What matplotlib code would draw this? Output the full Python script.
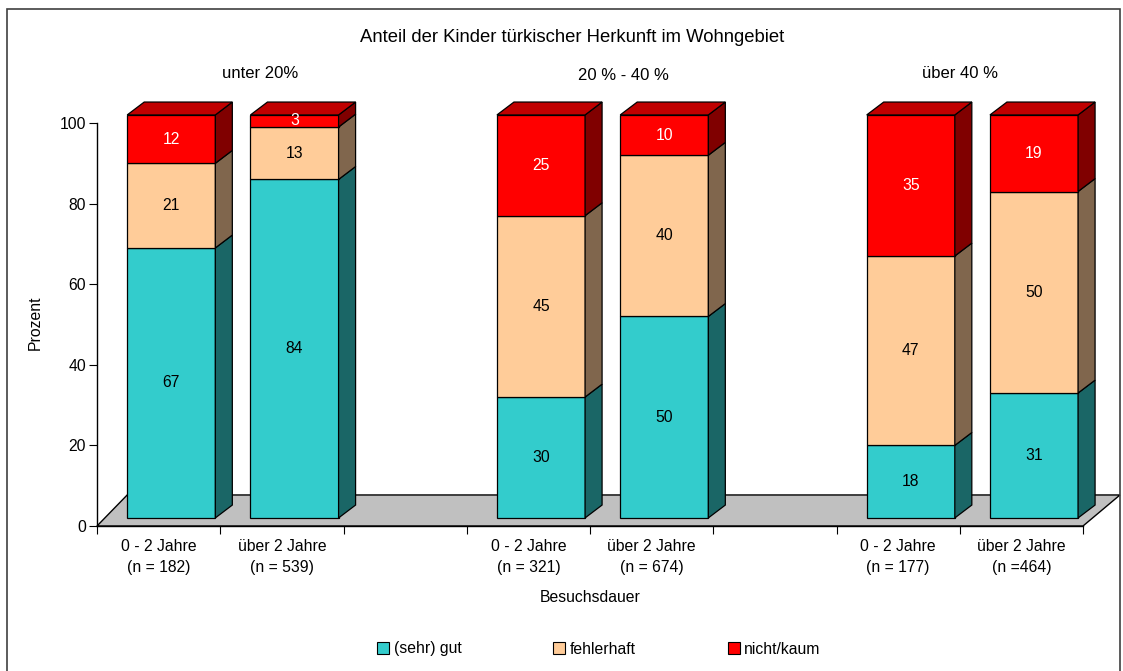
import matplotlib
matplotlib.use("Agg")
import matplotlib.pyplot as plt
from matplotlib.patches import Polygon, Patch, Rectangle

plt.rcParams["font.family"] = ["Liberation Sans", "DejaVu Sans"]

# -----------------------------
# Data
# -----------------------------
title = "Anteil der Kinder türkischer Herkunft im Wohngebiet"
groups = ["unter 20%", "20 % - 40 %", "über 40 %"]
cat_labels = ["0 - 2 Jahre\n(n = 182)", "über 2 Jahre\n(n = 539)",
              "0 - 2 Jahre\n(n = 321)", "über 2 Jahre\n(n = 674)",
              "0 - 2 Jahre\n(n = 177)", "über 2 Jahre\n(n =464)"]
series_names = ["(sehr) gut", "fehlerhaft", "nicht/kaum"]
gut = [67, 84, 30, 50, 18, 31]
fehlerhaft = [21, 13, 45, 40, 47, 50]
nicht = [12, 3, 25, 10, 35, 19]

# slot positions on the x axis (8 slots, gaps between groups)
slots = [0, 1, 3, 4, 6, 7]

face_col = ["#33CCCC", "#FFCC99", "#FF0000"]
side_col = ["#1A6666", "#80664D", "#800000"]
top_col = "#C00000"
text_col = ["black", "black", "white"]

FS = 11.3

# -----------------------------
# Figure
# -----------------------------
W, H = 1123, 671
fig = plt.figure(figsize=(W / 100, H / 100), dpi=100)

# outer frame
fig.patches.append(Rectangle((7 / W, -0.05), (1120 - 7) / W, 1 - 9 / H + 0.05,
                             transform=fig.transFigure, fill=False,
                             edgecolor="#404040", linewidth=1.2))

ax = fig.add_axes([97 / W, (H - 526) / H, 986 / W, (526 - 123) / H])
ax.set_xlim(0, 8)
ax.set_ylim(0, 100)

# floor
floor = Polygon([(0, 0), (8, 0), (8.30, 7.7), (0.245, 7.7)], closed=True,
                facecolor="#C0C0C0", edgecolor="black", linewidth=1.0,
                clip_on=False, zorder=1)
ax.add_patch(floor)

# bars
base = 2.0
bw = 0.715
ddx, ddy = 0.138, 3.2
for k, s in enumerate(slots):
    left = s + 0.245
    right = left + bw
    vals = [gut[k], fehlerhaft[k], nicht[k]]
    y0 = base
    for j, v in enumerate(vals):
        y1 = y0 + v
        ax.add_patch(Polygon([(left, y0), (right, y0), (right, y1), (left, y1)],
                             facecolor=face_col[j], edgecolor="black",
                             linewidth=0.9, clip_on=False, zorder=3))
        ax.add_patch(Polygon([(right, y0), (right + ddx, y0 + ddy),
                              (right + ddx, y1 + ddy), (right, y1)],
                             facecolor=side_col[j], edgecolor="black",
                             linewidth=0.9, clip_on=False, zorder=3))
        ax.text((left + right) / 2, (y0 + y1) / 2, str(v), ha="center",
                va="center", fontsize=FS, color=text_col[j], zorder=4)
        y0 = y1
    ax.add_patch(Polygon([(left, y0), (right, y0), (right + ddx, y0 + ddy),
                          (left + ddx, y0 + ddy)],
                         facecolor=top_col, edgecolor="black", linewidth=0.9,
                         clip_on=False, zorder=3))

# axes formatting
for sp in ["top", "right"]:
    ax.spines[sp].set_visible(False)
ax.spines["left"].set_linewidth(1.0)
ax.spines["bottom"].set_linewidth(1.0)
ax.spines["bottom"].set_zorder(2)
ax.set_yticks(range(0, 101, 20))
ax.tick_params(axis="y", direction="out", length=6, labelsize=FS, pad=2)
ax.set_xticks(range(0, 9))
ax.set_xticklabels([])
ax.tick_params(axis="x", direction="out", length=6)

for s, lab in zip(slots, cat_labels):
    ax.text(s + 0.5, -3.3, lab, ha="center", va="top", fontsize=FS,
            linespacing=1.45)

fig.text(35 / W, 1 - 323 / H, "Prozent", rotation=90, ha="center",
         va="center", fontsize=FS)
fig.text(590 / W, 1 - 597 / H, "Besuchsdauer", ha="center", va="center", fontsize=FS)

# title and group headers
fig.text(572 / W, 1 - 38 / H, title, ha="center", va="center", fontsize=13.3)
for gx, gy, g in zip([260, 623, 960], [73, 75, 73], groups):
    fig.text(gx / W, 1 - gy / H, g, ha="center", va="center", fontsize=12)

# legend
handles = [Patch(facecolor=c, edgecolor="black", linewidth=0.8) for c in face_col]
fig.legend(handles, series_names, loc="center", ncol=3,
           bbox_to_anchor=(599 / W, 1 - 649 / H), frameon=False, fontsize=FS,
           handlelength=0.75, handleheight=0.75, handletextpad=0.3,
           columnspacing=5.85)

fig.savefig("out.png", dpi=100)
